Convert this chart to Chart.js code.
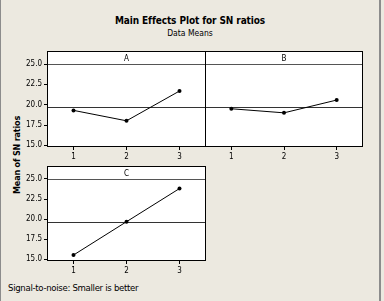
<!DOCTYPE html>
<html>
<head>
<meta charset="utf-8">
<script src="https://cdn.jsdelivr.net/npm/chart.js@4"></script>
<style>
  html, body { margin: 0; padding: 0; }
  body { width: 384px; height: 301px; background: #ece9e0; position: relative; overflow: hidden;
         font-family: "DejaVu Sans Condensed", "DejaVu Sans", sans-serif; color: #000; }
  canvas { position: absolute; left: 0; top: 0; }
  .frame { position: absolute; left: 0; top: 0; width: 381px; height: 301px; border-left: 1px solid #8c8c8c; border-right: 2px solid #8c8c8c; box-sizing: border-box; }
  #title { position: absolute; left: 0; width: 380px; top: 15px; text-align: center; font-weight: bold; font-size: 10px; letter-spacing: -0.1px; }
  #subtitle { position: absolute; left: 0; width: 380px; top: 28px; text-align: center; font-size: 8.5px; }
  #ytitle { position: absolute; left: 17px; top: 155px; transform: translate(-50%, -50%) rotate(-90deg); white-space: nowrap; font-weight: bold; font-size: 9px; letter-spacing: -0.2px; }
  #footer { position: absolute; left: 8px; top: 282px; font-size: 9.5px; letter-spacing: -0.3px; }
</style>
</head>
<body>
<div class="frame"></div>
<div id="title">Main Effects Plot for SN ratios</div>
<div id="subtitle">Data Means</div>
<div id="ytitle">Mean of SN ratios</div>
<div id="footer">Signal-to-noise: Smaller is better</div>
<canvas id="chartA" width="384" height="301"></canvas>
<canvas id="chartB" width="384" height="301"></canvas>
<canvas id="chartC" width="384" height="301"></canvas>
<script>
// factor levels and mean SN ratios
const levels = ['1', '2', '3'];
const factorA = [19.30, 18.02, 21.68];
const factorB = [19.50, 19.00, 20.57];
const factorC = [15.54, 19.68, 23.80];
const yTicks = [15.0, 17.5, 20.0, 22.5, 25.0];

const allValues = factorA.concat(factorB, factorC);
const grandMean = allValues.reduce((s, v) => s + v, 0) / allValues.length;

// panel frame, strip header and mean reference line
const panelPlugin = {
    id: 'panel',
    beforeDatasetsDraw(chart, args, opts) {
        const { ctx, chartArea: a, scales } = chart;
        const l = Math.round(a.left) + 0.5, r = Math.round(a.right) - 0.5;
        const t = Math.round(a.top) + 0.5, b = Math.round(a.bottom) - 0.5;
        ctx.save();
        ctx.fillStyle = '#fff';
        ctx.fillRect(l, t, r - l, b - t);
        // header strip line
        const hy = Math.round(scales.y.getPixelForValue(25.0)) + 0.5;
        ctx.strokeStyle = '#555';
        ctx.lineWidth = 1;
        ctx.beginPath();
        ctx.moveTo(l, hy); ctx.lineTo(r, hy);
        ctx.stroke();
        // mean line
        const my = Math.round(scales.y.getPixelForValue(grandMean)) + 0.5;
        ctx.strokeStyle = '#333';
        ctx.beginPath();
        ctx.moveTo(l, my); ctx.lineTo(r, my);
        ctx.stroke();
        // frame
        ctx.strokeStyle = '#000';
        ctx.strokeRect(l, t, r - l, b - t);
        // strip label
        ctx.fillStyle = '#000';
        ctx.font = '8px "DejaVu Sans Condensed", "DejaVu Sans", sans-serif';
        ctx.textAlign = 'center';
        ctx.textBaseline = 'middle';
        ctx.fillText(opts.label, (l + r) / 2, (t + hy) / 2 + 0.5);
        ctx.restore();
    }
};

function makePanel(id, label, values, box, showY) {
    const W = 384, H = 301;
    new Chart(document.getElementById(id), {
        type: 'line',
        data: {
            labels: levels,
            datasets: [{
                data: values,
                borderColor: '#000',
                borderWidth: 1,
                pointRadius: 2,
                pointBackgroundColor: '#000',
                pointBorderWidth: 0,
                tension: 0
            }]
        },
        options: {
            responsive: false,
            animation: false,
            events: [],
            layout: { padding: { left: 0, top: box.top, right: W - box.right, bottom: 0 } },
            plugins: { legend: { display: false }, tooltip: { enabled: false }, panel: { label: label } },
            scales: {
                x: {
                    type: 'category',
                    offset: true,
                    border: { display: false },
                    grid: { display: true, drawOnChartArea: false, drawTicks: true, tickLength: 3, color: '#000', offset: false },
                    ticks: { color: '#000', padding: 2, font: { size: 8, family: '"DejaVu Sans Condensed", "DejaVu Sans", sans-serif' } },
                    afterFit(s) { s.height = H - box.bottom; }
                },
                y: {
                    min: 14.8,
                    max: 26.6,
                    border: { display: false },
                    grid: { display: showY, drawOnChartArea: false, drawTicks: true, tickLength: 3, color: '#000' },
                    ticks: {
                        display: showY,
                        color: '#000',
                        padding: 2,
                        font: { size: 8, family: '"DejaVu Sans Condensed", "DejaVu Sans", sans-serif' },
                        callback: v => Number(v).toFixed(1)
                    },
                    afterBuildTicks(s) { s.ticks = yTicks.map(v => ({ value: v })); },
                    afterFit(s) { s.width = box.left; }
                }
            }
        },
        plugins: [panelPlugin]
    });
}

makePanel('chartA', 'A', factorA, { left: 47, top: 51, right: 206, bottom: 147 }, true);
makePanel('chartB', 'B', factorB, { left: 205, top: 51, right: 363, bottom: 147 }, false);
makePanel('chartC', 'C', factorC, { left: 47, top: 166, right: 206, bottom: 261 }, true);
</script>
</body>
</html>
